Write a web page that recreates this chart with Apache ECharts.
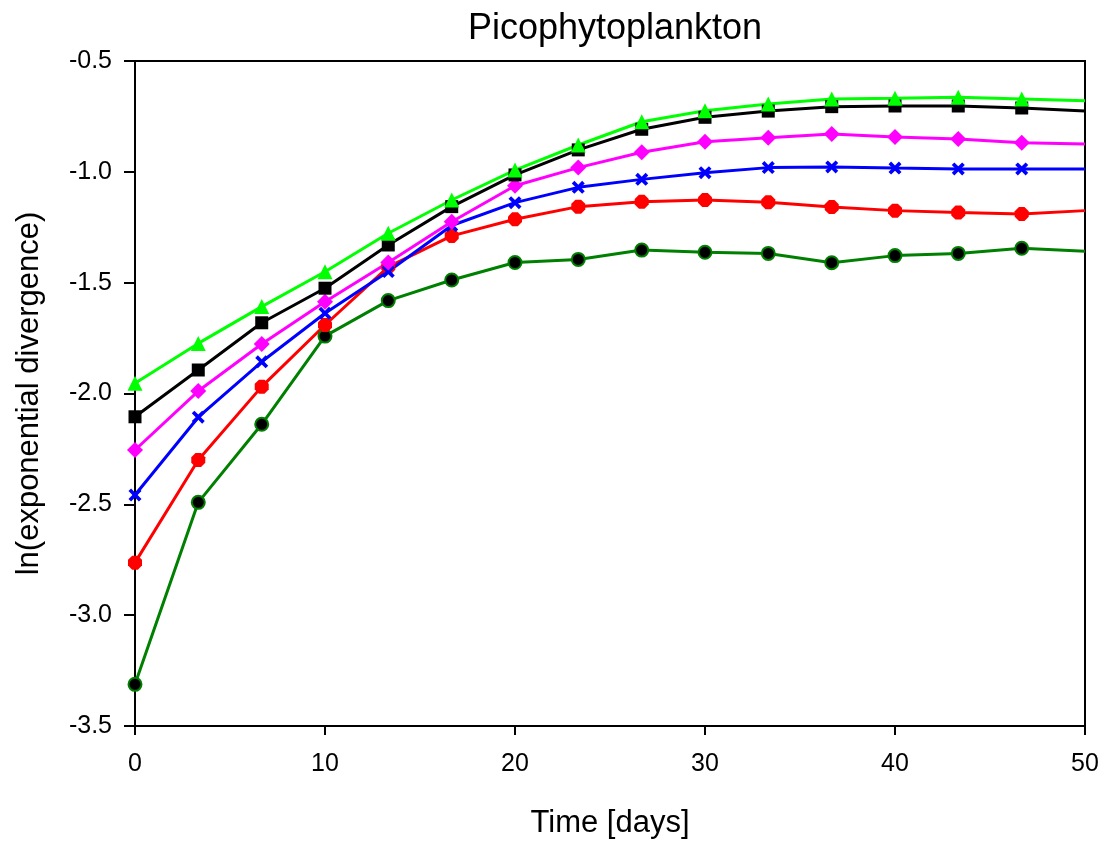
<!DOCTYPE html>
<html>
<head>
<meta charset="utf-8">
<title>Picophytoplankton</title>
<script src="https://cdn.jsdelivr.net/npm/echarts@6/dist/echarts.min.js"></script>
<style>
    html, body { margin: 0; padding: 0; background: #fff; }
    #chart { width: 1104px; height: 841px; }
</style>
</head>
<body>
<div id="chart"></div>
<script>
// time axis (days) - last point at 50 is drawn without a marker
var days = [0, 3.33, 6.67, 10, 13.33, 16.67, 20, 23.33, 26.67, 30, 33.33, 36.67, 40, 43.33, 46.67, 50];

var lime    = [-1.954, -1.774, -1.608, -1.451, -1.277, -1.127, -0.992, -0.879, -0.774, -0.724, -0.694, -0.671, -0.668, -0.664, -0.671, -0.679];
var black   = [-2.105, -1.894, -1.681, -1.525, -1.330, -1.157, -1.014, -0.901, -0.808, -0.754, -0.726, -0.706, -0.703, -0.703, -0.712, -0.726];
var magenta = [-2.255, -1.989, -1.777, -1.586, -1.409, -1.225, -1.063, -0.981, -0.912, -0.864, -0.846, -0.829, -0.843, -0.852, -0.869, -0.874];
var blue    = [-2.458, -2.107, -1.857, -1.638, -1.450, -1.242, -1.139, -1.070, -1.034, -1.004, -0.981, -0.978, -0.983, -0.987, -0.987, -0.987];
var red     = [-2.763, -2.300, -1.969, -1.691, -1.429, -1.289, -1.214, -1.157, -1.135, -1.127, -1.137, -1.159, -1.175, -1.184, -1.190, -1.175];
var dkgreen = [-3.312, -2.491, -2.139, -1.741, -1.581, -1.488, -1.409, -1.395, -1.353, -1.363, -1.368, -1.410, -1.378, -1.368, -1.345, -1.358];

var xTicks = [0, 10, 20, 30, 40, 50];
var yTicks = [-3.5, -3.0, -2.5, -2.0, -1.5, -1.0, -0.5];

var FONT = '"Liberation Sans", Arial, sans-serif';

// 把数值和天数拼成点，最后一点不画符号
function pts(vals) {
    return days.map(function (d, i) {
        if (i === days.length - 1) return { value: [d, vals[i]], symbol: 'none' };
        return [d, vals[i]];
    });
}

function line(name, vals, color, symbol, size, extra) {
    var s = {
        name: name,
        type: 'line',
        data: pts(vals),
        symbol: symbol,
        symbolSize: size,
        lineStyle: { color: color, width: 3 },
        itemStyle: { color: color },
        clip: false
    };
    if (extra) Object.assign(s.itemStyle, extra);
    return s;
}

var chart = echarts.init(document.getElementById('chart'));
var option = {
    animation: false,
    backgroundColor: '#fff',
    title: {
        text: 'Picophytoplankton',
        left: 610,
        textAlign: 'center',
        top: 6,
        textStyle: { fontFamily: FONT, fontSize: 36, fontWeight: 'normal', color: '#000' }
    },
    grid: {
        left: 135, right: 19, top: 61, bottom: 115,
        containLabel: false,
        outerBoundsMode: 'none',
        show: true, borderColor: '#000', borderWidth: 2, backgroundColor: 'transparent'
    },
    xAxis: {
        type: 'value',
        min: xTicks[0], max: xTicks[xTicks.length - 1], interval: 10,
        name: 'Time [days]',
        nameLocation: 'middle',
        nameGap: 82,
        nameTextStyle: { fontFamily: FONT, fontSize: 31, color: '#000' },
        axisLine: { onZero: false, lineStyle: { color: '#000', width: 2 } },
        axisTick: { inside: false, length: 9, lineStyle: { color: '#000', width: 2 } },
        axisLabel: { fontFamily: FONT, fontSize: 25, color: '#000', margin: 26 },
        splitLine: { show: false }
    },
    yAxis: {
        type: 'value',
        min: yTicks[0], max: yTicks[yTicks.length - 1], interval: 0.5,
        name: 'ln(exponential divergence)',
        nameLocation: 'middle',
        nameGap: 90,
        nameTextStyle: { fontFamily: FONT, fontSize: 31, color: '#000' },
        axisLine: { show: true, onZero: false, lineStyle: { color: '#000', width: 2 } },
        axisTick: { show: true, inside: false, length: 11, lineStyle: { color: '#000', width: 2 } },
        axisLabel: {
            fontFamily: FONT, fontSize: 25, color: '#000', margin: 23,
            formatter: function (v) { return v.toFixed(1); }
        },
        splitLine: { show: false }
    },
    series: [
        line('dkgreen', dkgreen, '#008000', 'circle', 13, { color: '#000', borderColor: '#008000', borderWidth: 2 }),
        line('red', red, '#ff0000', 'path://M3,0 L7,0 L10,3 L10,7 L7,10 L3,10 L0,7 L0,3 Z', 14),
        line('blue', blue, '#0000ff', 'path://M2,0 L5,3 L8,0 L10,2 L7,5 L10,8 L8,10 L5,7 L2,10 L0,8 L3,5 L0,2 Z', 13),
        line('magenta', magenta, '#ff00ff', 'diamond', 16),
        line('black', black, '#000000', 'rect', 13),
        line('lime', lime, '#00ff00', 'triangle', 15)
    ]
};
chart.setOption(option);
</script>
</body>
</html>
